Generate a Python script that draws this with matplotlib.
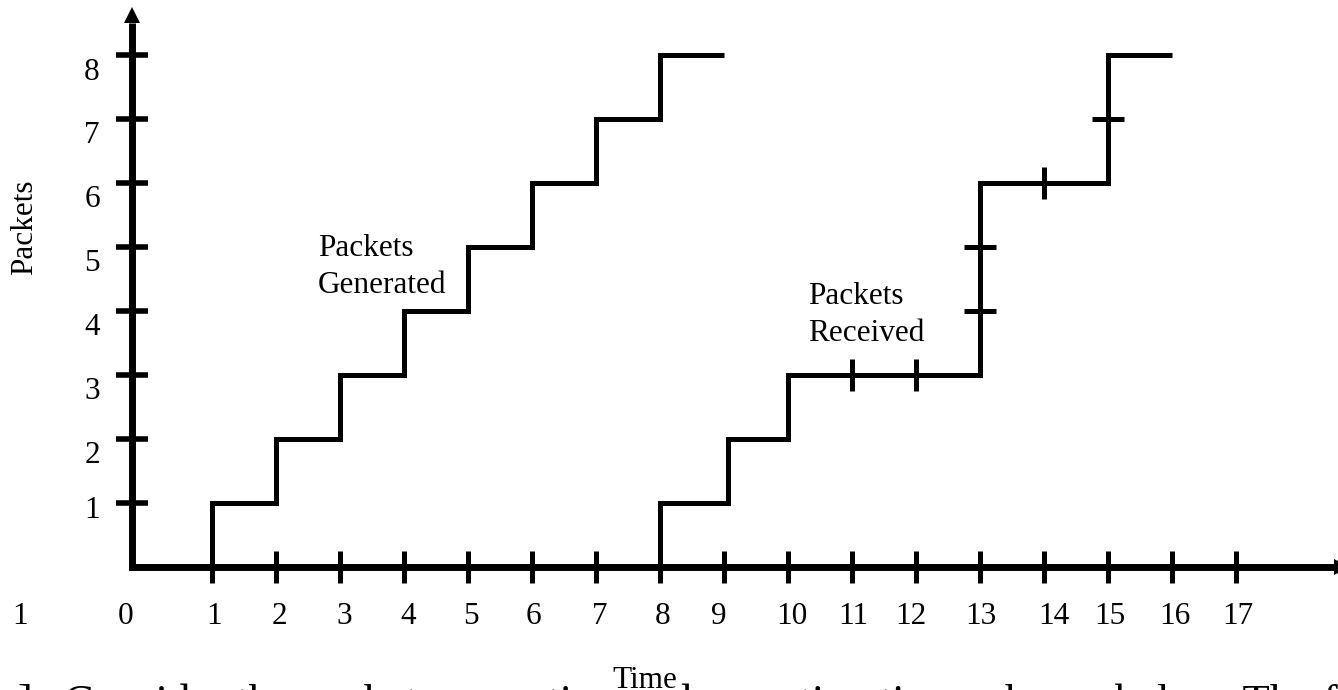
import matplotlib
matplotlib.use("Agg")
import matplotlib.pyplot as plt

plt.rcParams['font.family'] = ['Liberation Serif', 'DejaVu Serif']

# ---------------- data ----------------
gen_times = [1, 2, 3, 4, 5, 6, 7, 8]
gen_counts = [1, 2, 3, 4, 5, 6, 7, 8]
gen_end = 9

recv_times = [8, 9.06, 10, 13, 13, 13, 15, 15]
recv_counts = [1, 2, 3, 4, 5, 6, 7, 8]
recv_end = 16

# small marks on the received curve
recv_vmark_x = [11, 12, 14]
recv_vmark_y = [3, 3, 6]
recv_hmark_x = [13, 13, 15]
recv_hmark_y = [4, 5, 7]

x_ticks = list(range(1, 18))
y_ticks = list(range(1, 9))
x_tick_labels = [str(i) for i in range(0, 18)]
y_tick_labels = [str(i) for i in range(1, 9)]

gen_label = ["Packets", "Generated"]
recv_label = ["Packets", "Received"]
x_title = "Time"
y_title = "Packets"
bottom_text = "Consider the packet generation and reception times shown below. The f"

# ---------------- layout ----------------
W, H = 1338, 690
fig = plt.figure(figsize=(W / 100, H / 100), dpi=100)
ax = fig.add_axes([0, 0, 1, 1])
ax.set_axis_off()
UNIT = 64.0
X0PX, Y0PX = 148.0, 567.0
ax.set_xlim(-X0PX / UNIT, (W - X0PX) / UNIT)
ax.set_ylim(-(H - Y0PX) / UNIT, Y0PX / UNIT)

def dx(px):
    return (px - X0PX) / UNIT

def dy(py):
    return (Y0PX - py) / UNIT

FS = 22.5
LW = 3.6
x_axis_pos = dx(131.5)

# axes lines with arrows
ax.plot([x_axis_pos, x_axis_pos, dx(1334)], [dy(23), 0, 0], color='black',
        lw=5.0, solid_joinstyle='miter', solid_capstyle='butt', zorder=3)
ax.plot([x_axis_pos], [dy(15)], marker='^', ms=11, color='black', mew=0,
        clip_on=False, zorder=4)
ax.plot([dx(1342)], [0], marker='>', ms=11, color='black', mew=0,
        clip_on=False, zorder=4)

# axis ticks
ax.plot(x_ticks, [0] * len(x_ticks), ls='none', marker='|', ms=23,
        mew=3.6, color='black', zorder=3)
ax.plot([x_axis_pos] * len(y_ticks), y_ticks, ls='none', marker='_', ms=22.5,
        mew=4.0, color='black', zorder=3)

# step curves
gx = [gen_times[0]] + gen_times + [gen_end]
gy = [0] + gen_counts + [gen_counts[-1]]
ax.step(gx, gy, where='post', color='black', lw=LW,
        solid_joinstyle='miter', solid_capstyle='butt', zorder=3)

rx = [recv_times[0]] + recv_times + [recv_end]
ry = [0] + recv_counts + [recv_counts[-1]]
ax.step(rx, ry, where='post', color='black', lw=LW,
        solid_joinstyle='miter', solid_capstyle='butt', zorder=3)

ax.plot(recv_vmark_x, recv_vmark_y, ls='none', marker='|', ms=23, mew=3.6,
        color='black', zorder=3)
ax.plot(recv_hmark_x, recv_hmark_y, ls='none', marker='_', ms=23, mew=3.6,
        color='black', zorder=3)

# x tick labels (slightly irregular placement as in the reference)
x_label_shift_px = [-22, 2, 3, 4, 4, 3, 1, 4, 3, -5, 4, 1, -5, 1, 10, 2, 3, 2]
for i, lab in enumerate(x_tick_labels):
    ax.text(i + x_label_shift_px[i] / UNIT, dy(624), lab, ha='center',
            va='baseline', fontsize=FS)
# stray label at far left
ax.text(dx(20), dy(624), "1", ha='center', va='baseline', fontsize=FS)

# y tick labels
y_label_drop_px = [15, 24, 24, 24, 24, 24, 24, 25]
for v, lab, d in zip(y_ticks, y_tick_labels, y_label_drop_px):
    ax.text(dx(92), v - d / UNIT, lab, ha='center', va='baseline', fontsize=FS)

# curve labels
ax.text(dx(318), dy(256), gen_label[0], ha='left', va='baseline', fontsize=FS)
ax.text(dx(318), dy(293), gen_label[1], ha='left', va='baseline', fontsize=FS)
ax.text(dx(808), dy(304), recv_label[0], ha='left', va='baseline', fontsize=FS)
ax.text(dx(808), dy(341), recv_label[1], ha='left', va='baseline', fontsize=FS)

# axis titles
ax.text(dx(645), dy(688), x_title, ha='center', va='baseline', fontsize=FS)
ax.text(dx(25), dy(227), y_title, ha='center', va='center', rotation=90,
        fontsize=FS)

# clipped caption text at the very bottom
ax.text(dx(17), dy(715), "]", ha='left', va='baseline', fontsize=32)
ax.text(dx(64), dy(715), bottom_text, ha='left', va='baseline', fontsize=32)

fig.savefig("out.png", dpi=100, facecolor='white')
